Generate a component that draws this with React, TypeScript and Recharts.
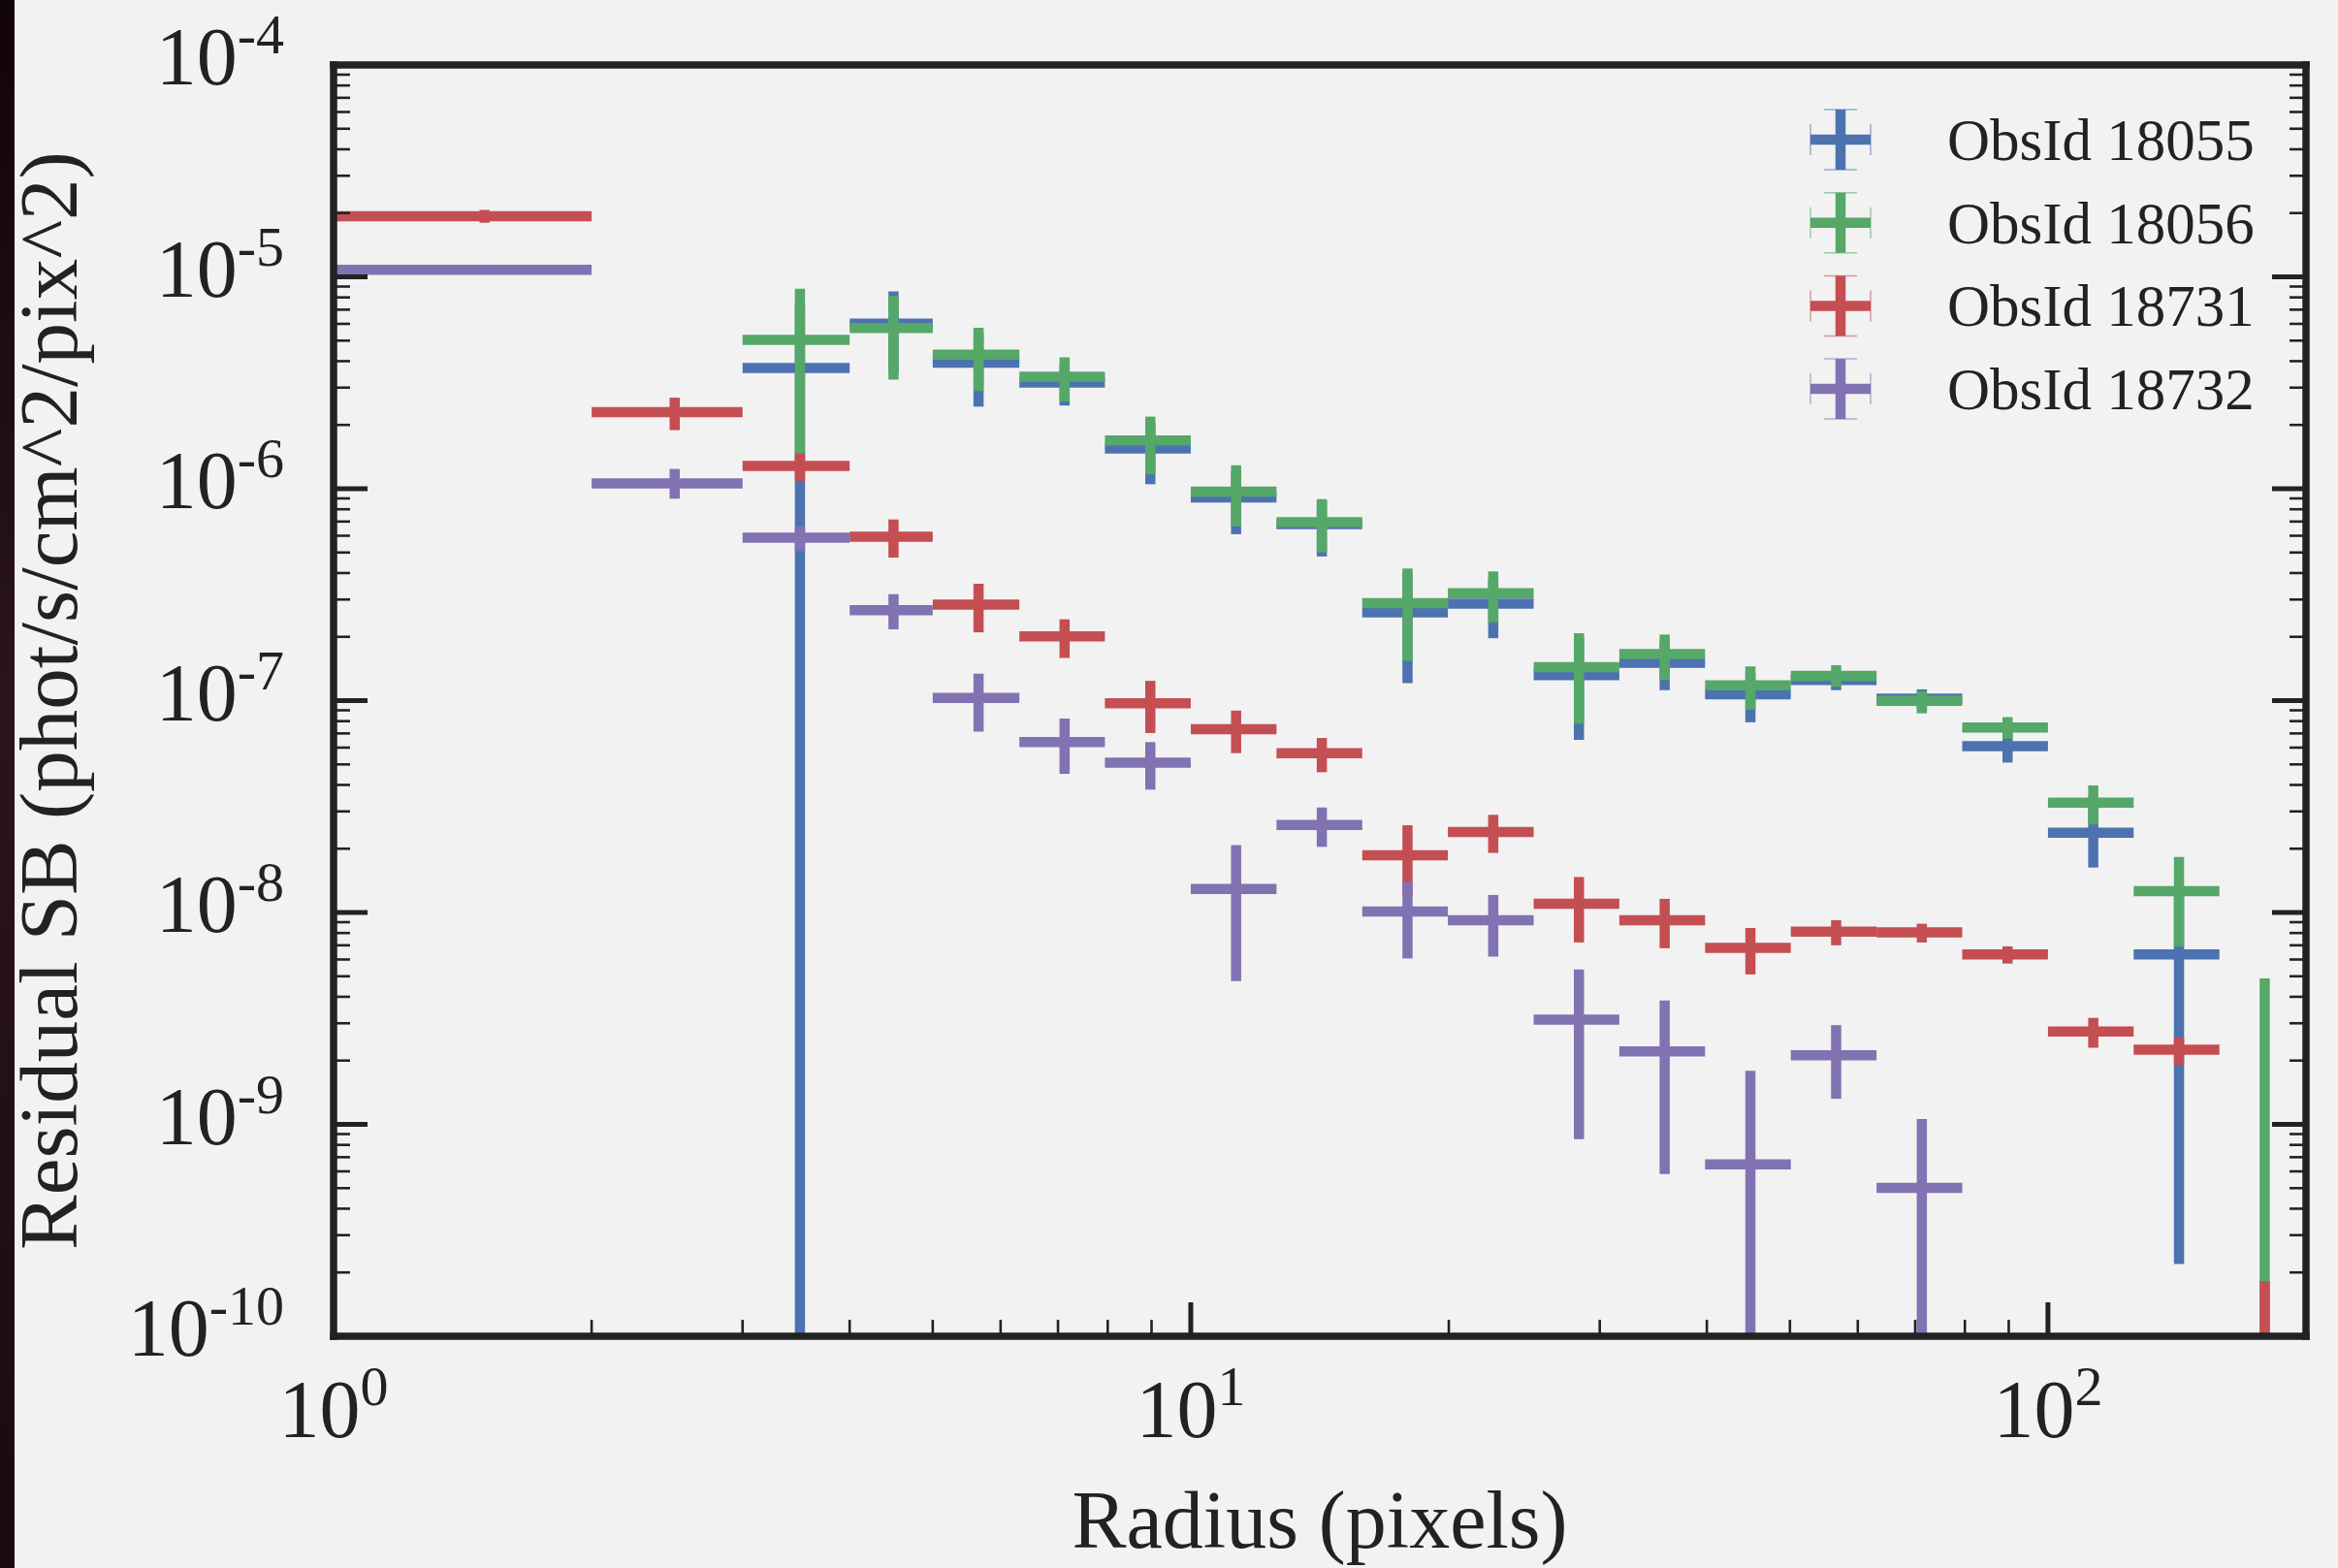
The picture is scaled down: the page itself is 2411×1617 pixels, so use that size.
import React from 'react';
import { ScatterChart, Scatter, XAxis, YAxis, ErrorBar, Legend } from 'recharts';

// ---------------- data ----------------
const RADIUS_EDGES = [1, 2, 3, 4, 5, 6.31, 7.94, 10, 12.59, 15.85, 19.95, 25.12, 31.62, 39.81, 50.12, 63.1, 79.43, 100, 125.89, 158.49, 199.53];

const OBS_IDS = ['ObsId 18055', 'ObsId 18056', 'ObsId 18731', 'ObsId 18732'];
const COLORS = ['#4C72B0', '#55A868', '#C44E52', '#8172B2'];

// SB value per radial bin (null = not plotted / below the axis range)
// LO = lower end of error bar (null = runs past the bottom of the axis), HI = upper end
const SB_18055 = [null, null, 3.71e-6, 6.01e-6, 3.94e-6, 3.17e-6, 1.55e-6, 9.09e-7, 6.8e-7, 2.61e-7, 2.87e-7, 1.32e-7, 1.51e-7, 1.07e-7, 1.25e-7, 1.02e-7, 6.1e-8, 2.38e-8, 6.34e-9, null];
const LO_18055 = [null, null, null, 3.49e-6, 2.44e-6, 2.47e-6, 1.05e-6, 6.1e-7, 4.79e-7, 1.21e-7, 1.97e-7, 6.52e-8, 1.12e-7, 7.9e-8, 1.12e-7, 9.1e-8, 5.1e-8, 1.63e-8, 2.19e-10, null];
const HI_18055 = [null, null, 7.4e-6, 8.53e-6, 5.44e-6, 3.87e-6, 2.05e-6, 1.21e-6, 8.8e-7, 4.0e-7, 3.77e-7, 1.99e-7, 1.9e-7, 1.35e-7, 1.38e-7, 1.13e-7, 7.1e-8, 3.13e-8, 1.25e-8, null];

const SB_18056 = [null, null, 5.04e-6, 5.73e-6, 4.29e-6, 3.38e-6, 1.69e-6, 9.68e-7, 6.95e-7, 2.88e-7, 3.21e-7, 1.44e-7, 1.66e-7, 1.18e-7, 1.31e-7, 9.97e-8, 7.46e-8, 3.3e-8, 1.26e-8, null];
const LO_18056 = [null, null, 1.25e-6, 3.27e-6, 2.89e-6, 2.58e-6, 1.17e-6, 6.64e-7, 5.01e-7, 1.54e-7, 2.34e-7, 7.78e-8, 1.25e-7, 9.05e-8, 1.16e-7, 8.71e-8, 6.6e-8, 2.6e-8, 6.9e-9, null];
const HI_18056 = [null, null, 8.8e-6, 8.13e-6, 5.75e-6, 4.17e-6, 2.19e-6, 1.29e-6, 8.93e-7, 4.2e-7, 4.07e-7, 2.08e-7, 2.05e-7, 1.45e-7, 1.47e-7, 1.11e-7, 8.36e-8, 3.98e-8, 1.83e-8, 4.89e-9];

const SB_18731 = [1.93e-5, 2.3e-6, 1.28e-6, 5.93e-7, 2.84e-7, 2.01e-7, 9.71e-8, 7.33e-8, 5.65e-8, 1.86e-8, 2.4e-8, 1.1e-8, 9.19e-9, 6.8e-9, 8.13e-9, 8.05e-9, 6.34e-9, 2.74e-9, 2.25e-9, null];
const LO_18731 = [1.8e-5, 1.89e-6, 1.09e-6, 4.73e-7, 2.1e-7, 1.59e-7, 7.03e-8, 5.65e-8, 4.59e-8, 1.2e-8, 1.91e-8, 7.22e-9, 6.78e-9, 5.1e-9, 7.0e-9, 7.22e-9, 5.74e-9, 2.3e-9, 1.9e-9, null];
const HI_18731 = [2.07e-5, 2.69e-6, 1.47e-6, 7.16e-7, 3.56e-7, 2.42e-7, 1.24e-7, 8.97e-8, 6.66e-8, 2.58e-8, 2.89e-8, 1.47e-8, 1.16e-8, 8.45e-9, 9.2e-9, 8.85e-9, 6.92e-9, 3.18e-9, 2.57e-9, 1.82e-10];

const SB_18732 = [1.08e-5, 1.06e-6, 5.87e-7, 2.67e-7, 1.03e-7, 6.37e-8, 5.1e-8, 1.29e-8, 2.59e-8, 1.01e-8, 9.19e-9, 3.12e-9, 2.21e-9, 6.48e-10, 2.12e-9, 5.01e-10, null, null, null, null];
const LO_18732 = [1.06e-5, 8.97e-7, 5.07e-7, 2.17e-7, 7.14e-8, 4.51e-8, 3.8e-8, 4.75e-9, 2.04e-8, 6.07e-9, 6.19e-9, 8.51e-10, 5.82e-10, null, 1.32e-9, null, null, null, null, null];
const HI_18732 = [1.1e-5, 1.24e-6, 6.64e-7, 3.18e-7, 1.34e-7, 8.23e-8, 6.37e-8, 2.08e-8, 3.13e-8, 1.4e-8, 1.21e-8, 5.38e-9, 3.84e-9, 1.79e-9, 2.94e-9, 1.06e-9, null, null, null, null];

const X_DECADES = [0, 1, 2];
const Y_DECADES = [-10, -9, -8, -7, -6, -5, -4];
const MINOR_STEPS = [2, 3, 4, 5, 6, 7, 8, 9];

const X_TITLE = 'Radius (pixels)';
const Y_TITLE = 'Residual SB (phot/s/cm^2/pix^2)';

// ---------------- layout / style ----------------
const W = 2411;
const H = 1617;
const X_MIN = 1;
const X_MAX = 200;
const Y_MIN = 1e-10;
const Y_MAX = 1e-4;
const PLOT_LEFT = 344;
const PLOT_TOP = 67;
const PLOT_RIGHT = 2378;
const PLOT_BOTTOM = 1378;

const INK = '#222222';
const BG = '#f2f2f2';
const SERIF = "'Liberation Serif', 'Times New Roman', Times, serif";
const BAR_W = 10.5;
const MAJOR_LEN = 35;
const MINOR_LEN = 17;
const MAJOR_W = 5;
const MINOR_W = 2.6;

const X_TICKS = X_DECADES.flatMap((d) => [1, ...MINOR_STEPS].map((m) => Number(`${m}e${d}`))).filter(
  (v) => v >= X_MIN && v < X_MAX
);
const Y_TICKS = Y_DECADES.flatMap((d) => [1, ...MINOR_STEPS].map((m) => Number(`${m}e${d}`))).filter(
  (v) => v >= Y_MIN && v <= Y_MAX
);

const isDecade = (v: number) => Math.abs(Math.log10(v) - Math.round(Math.log10(v))) < 1e-6;
const expOf = (v: number) => String(Math.round(Math.log10(v)));

function buildSeries(sb: (number | null)[], lo: (number | null)[], hi: (number | null)[]) {
  const points: any[] = [];
  const partial: any[] = [];
  sb.forEach((v, i) => {
    const a = RADIUS_EDGES[i];
    const b = RADIUS_EDGES[i + 1];
    const x = (a + b) / 2;
    if (v != null) {
      const low = lo[i] ?? Y_MIN;
      const high = hi[i] ?? v;
      points.push({ x, y: v, ex: [x - a, b - x], ey: [v - low, high - v] });
    } else if (hi[i] != null) {
      partial.push({ x, y: Y_MIN, ey: [0, (hi[i] as number) - Y_MIN] });
    }
  });
  return { points, partial };
}

const SERIES = [
  buildSeries(SB_18055, LO_18055, HI_18055),
  buildSeries(SB_18056, LO_18056, HI_18056),
  buildSeries(SB_18731, LO_18731, HI_18731),
  buildSeries(SB_18732, LO_18732, HI_18732),
];

const getEx = (p: any) => (p && p.ex !== undefined ? p.ex : p?.payload?.ex);
const getEy = (p: any) => (p && p.ey !== undefined ? p.ey : p?.payload?.ey);

const NoShape = () => <g />;

const frameLine = { stroke: INK, strokeWidth: 7.5, strokeLinecap: 'square' as const };

// ---------------- tick renderers ----------------
function LeftTick(props: any) {
  const { x, y, payload } = props;
  const v = payload.value;
  const major = isDecade(v);
  return (
    <g>
      <line x1={x} y1={y} x2={x + (major ? MAJOR_LEN : MINOR_LEN)} y2={y} stroke={INK} strokeWidth={major ? MAJOR_W : MINOR_W} />
      {major && (
        <text x={x - 51} y={y + 20} textAnchor="end" fontFamily={SERIF} fontSize={84} fill={INK}>
          10
          <tspan dy={-32} fontSize={58}>
            {expOf(v)}
          </tspan>
        </text>
      )}
    </g>
  );
}

function RightTick(props: any) {
  const { x, y, payload } = props;
  const major = isDecade(payload.value);
  return (
    <line x1={x} y1={y} x2={x - (major ? MAJOR_LEN : MINOR_LEN)} y2={y} stroke={INK} strokeWidth={major ? MAJOR_W : MINOR_W} />
  );
}

function BottomTick(props: any) {
  const { x, y, payload } = props;
  const v = payload.value;
  const major = isDecade(v);
  return (
    <g>
      <line x1={x} y1={y} x2={x} y2={y - (major ? MAJOR_LEN : MINOR_LEN)} stroke={INK} strokeWidth={major ? MAJOR_W : MINOR_W} />
      {major && (
        <text x={x} y={y + 104} textAnchor="middle" fontFamily={SERIF} fontSize={84} fill={INK}>
          10
          <tspan dy={-33} fontSize={58}>
            {expOf(v)}
          </tspan>
        </text>
      )}
    </g>
  );
}

function TopTick(props: any) {
  const { x, y, payload } = props;
  const major = isDecade(payload.value);
  return (
    <line x1={x} y1={y} x2={x} y2={y + (major ? MAJOR_LEN : MINOR_LEN)} stroke={INK} strokeWidth={major ? MAJOR_W : MINOR_W} />
  );
}

function XTitle() {
  return (
    <text x={(PLOT_LEFT + PLOT_RIGHT) / 2} y={1596} textAnchor="middle" fontFamily={SERIF} fontSize={84} fill={INK}>
      {X_TITLE}
    </text>
  );
}

function YTitle() {
  const cx = 79;
  const cy = (PLOT_TOP + PLOT_BOTTOM) / 2;
  return (
    <text x={cx} y={cy} transform={`rotate(-90, ${cx}, ${cy})`} textAnchor="middle" fontFamily={SERIF} fontSize={85} fill={INK}>
      {Y_TITLE}
    </text>
  );
}

function LegendBox() {
  return (
    <svg width={540} height={360} style={{ display: 'block', overflow: 'visible' }}>
      {OBS_IDS.map((name, i) => {
        const cy = 54 + i * 85.7;
        const c = COLORS[i];
        return (
          <g key={name}>
            <line x1={17} y1={cy} x2={79} y2={cy} stroke={c} strokeWidth={BAR_W} />
            <line x1={48} y1={cy - 31} x2={48} y2={cy + 31} stroke={c} strokeWidth={BAR_W} />
            <line x1={31} y1={cy - 31} x2={65} y2={cy - 31} stroke={c} strokeWidth={1.5} opacity={0.55} />
            <line x1={31} y1={cy + 31} x2={65} y2={cy + 31} stroke={c} strokeWidth={1.5} opacity={0.55} />
            <line x1={17} y1={cy - 16} x2={17} y2={cy + 16} stroke={c} strokeWidth={1.5} opacity={0.55} />
            <line x1={79} y1={cy - 16} x2={79} y2={cy + 16} stroke={c} strokeWidth={1.5} opacity={0.55} />
            <text x={158} y={cy + 21} fontFamily={SERIF} fontSize={61} fill={INK}>
              {name}
            </text>
          </g>
        );
      })}
    </svg>
  );
}

export default function App() {
  return (
    <div style={{ position: 'absolute', left: 0, top: 0, width: W, height: H, background: BG, overflow: 'hidden' }}>
      <div
        style={{
          position: 'absolute',
          left: 0,
          top: 0,
          width: 15,
          height: H,
          background: 'linear-gradient(180deg, #12040a 0%, #2a151a 45%, #1c0a0e 100%)',
        }}
      />
      <ScatterChart width={W} height={H} margin={{ top: PLOT_TOP, right: W - PLOT_RIGHT, bottom: 0, left: 0 }}>
        <XAxis
          xAxisId="x"
          dataKey="x"
          type="number"
          scale="log"
          domain={[X_MIN, X_MAX]}
          allowDataOverflow
          ticks={X_TICKS}
          interval={0}
          tickSize={0}
          tickMargin={0}
          tickLine={false}
          tick={BottomTick}
          axisLine={frameLine}
          height={H - PLOT_BOTTOM}
          label={XTitle}
        />
        <XAxis
          xAxisId="top"
          orientation="top"
          mirror
          type="number"
          scale="log"
          domain={[X_MIN, X_MAX]}
          allowDataOverflow
          ticks={X_TICKS}
          interval={0}
          tickSize={0}
          tickMargin={0}
          tickLine={false}
          tick={TopTick}
          axisLine={frameLine}
        />
        <YAxis
          yAxisId="y"
          dataKey="y"
          type="number"
          scale="log"
          domain={[Y_MIN, Y_MAX]}
          allowDataOverflow
          ticks={Y_TICKS}
          interval={0}
          tickSize={0}
          tickMargin={0}
          tickLine={false}
          tick={LeftTick}
          axisLine={frameLine}
          width={PLOT_LEFT}
          label={YTitle}
        />
        <YAxis
          yAxisId="right"
          orientation="right"
          mirror
          type="number"
          scale="log"
          domain={[Y_MIN, Y_MAX]}
          allowDataOverflow
          ticks={Y_TICKS}
          interval={0}
          tickSize={0}
          tickMargin={0}
          tickLine={false}
          tick={RightTick}
          axisLine={frameLine}
        />
        {SERIES.map((s, i) => (
          <React.Fragment key={OBS_IDS[i]}>
            <Scatter
              name={OBS_IDS[i]}
              data={s.points}
              xAxisId="x"
              yAxisId="y"
              fill={COLORS[i]}
              shape={NoShape}
              isAnimationActive={false}
              legendType="none"
            >
              <ErrorBar dataKey={getEx} direction="x" width={0} stroke={COLORS[i]} strokeWidth={BAR_W} isAnimationActive={false} />
              <ErrorBar dataKey={getEy} direction="y" width={0} stroke={COLORS[i]} strokeWidth={BAR_W} isAnimationActive={false} />
            </Scatter>
            {s.partial.length > 0 && (
              <Scatter
                name={`${OBS_IDS[i]} (clipped)`}
                data={s.partial}
                xAxisId="x"
                yAxisId="y"
                fill={COLORS[i]}
                shape={NoShape}
                isAnimationActive={false}
                legendType="none"
              >
                <ErrorBar dataKey={getEy} direction="y" width={0} stroke={COLORS[i]} strokeWidth={BAR_W} isAnimationActive={false} />
              </Scatter>
            )}
          </React.Fragment>
        ))}
        <Legend
          layout="vertical"
          align="center"
          verticalAlign="middle"
          content={LegendBox}
          wrapperStyle={{ left: 1850, top: 90, width: 540, height: 360 }}
        />
      </ScatterChart>
    </div>
  );
}
